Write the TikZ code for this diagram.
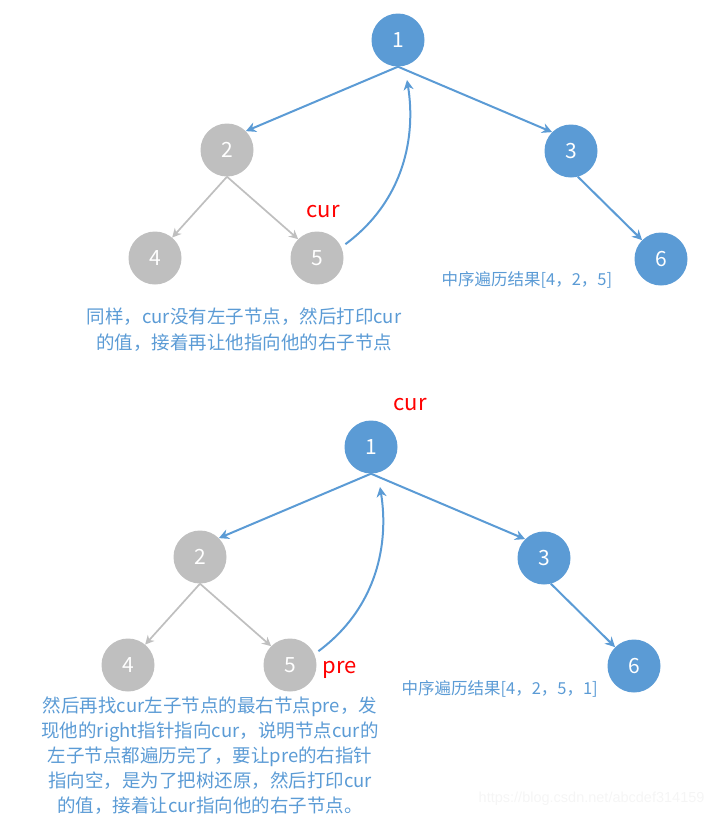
\documentclass[tikz,border=0pt]{standalone}
\usepackage{fontspec}
\setmainfont{Noto Sans CJK SC}
\newfontfamily\urlfont{Liberation Sans}
\usetikzlibrary{arrows.meta}
\definecolor{nodeblue}{HTML}{5B9BD5}
\definecolor{nodegray}{HTML}{BFBFBF}

\begin{document}
\begin{tikzpicture}[x=1pt,y=-1pt,
  bluenode/.style={circle,fill=nodeblue,minimum size=53pt,inner sep=0pt,text=white,font=\fontsize{21}{21}\selectfont},
  graynode/.style={bluenode,fill=nodegray},
  bluearrow/.style={draw=nodeblue,line width=2pt,-{Stealth[length=10pt,width=10pt]}},
  grayarrow/.style={draw=nodegray,line width=1.7pt,-{Stealth[length=9pt,width=9pt]}},
  note/.style={text=nodeblue,align=center,font=\fontsize{18.5}{26}\selectfont},
  listnote/.style={text=nodeblue,anchor=west,font=\fontsize{16.5}{16.5}\selectfont},
  redlabel/.style={text=red,font=\fontsize{22}{22}\selectfont}]
  \useasboundingbox (0,0) rectangle (717,817);
  \foreach \t/\dx/\dy in {a/0/0,b/-27/407}{
    \begin{scope}[shift={(\dx,\dy)}]
      \node[bluenode] (\t1) at (398,40) {1};
      \node[graynode] (\t2) at (227,150) {2};
      \node[bluenode] (\t3) at (571,151) {3};
      \node[graynode] (\t4) at (155,258) {4};
      \node[graynode] (\t5) at (317,258) {5};
      \node[bluenode] (\t6) at (661,259) {6};
      \coordinate (\t tip) at (407,80);
      \draw[bluearrow] (\t1.south) -- (\t2.45);
      \draw[bluearrow] (\t1.south) -- (\t3.135);
      \draw[grayarrow] (\t2.south) -- (\t4.50);
      \draw[grayarrow] (\t2.south) -- (\t5.135);
      \draw[bluearrow] (\t3.-75) -- (\t6.135);
      \draw[bluearrow,shorten <=5pt] (\t5.24) .. controls (405,200) and (416,135) .. (\t tip);
    \end{scope}
  }
  \node[redlabel] (curtop) at (323,212) {cur};
  \node[redlabel] (curbot) at (410,405) {cur};
  \node[redlabel] (prebot) at (340,670) {pre};
  \node[note] (topnote) at (244,330) {同样，cur没有左子节点，然后打印cur\\的值，接着再让他指向他的右子节点};
  \node[listnote] (toplist) at (438,280) {中序遍历结果[4，2，5]};
  \node[listnote] (botlist) at (398,689) {中序遍历结果[4，2，5，1]};
  \node[note,font=\fontsize{18.5}{25}\selectfont] (botnote) at (210,756) {然后再找cur左子节点的最右节点pre，发\\现他的right指针指向cur，说明节点cur的\\左子节点都遍历完了，要让pre的右指针\\指向空，是为了把树还原，然后打印cur\\的值，接着让cur指向他的右子节点。};
  \node[anchor=east,text=gray!8,font=\urlfont\fontsize{14.5}{14.5}\selectfont] (wmark) at (708,799) {https://blog.csdn.net/abcdef314159};
\end{tikzpicture}
\end{document}
